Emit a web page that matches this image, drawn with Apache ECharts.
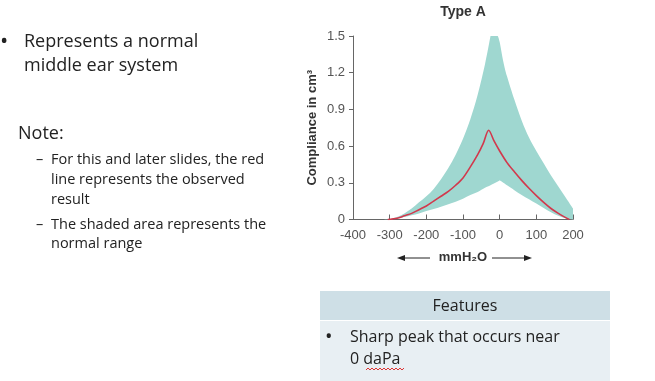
<!DOCTYPE html>
<html><head><meta charset="utf-8">
<script src="https://cdn.jsdelivr.net/npm/echarts@6/dist/echarts.min.js"></script>
<style>html,body{margin:0;padding:0;background:#fff}#c{width:655px;height:381px}</style>
</head><body><div id="c"></div>
<script>
// Normal range band (shaded area), sampled at common pressures (mmH2O)
const bandX     = [-320,-300,-280,-260,-240,-220,-200,-180,-160,-140,-120,-100,-80,-60,-40,-25,-5,0,10,20,40,60,80,100,120,140,160,180,200];
const bandUpper = [0,0.004,0.02,0.05,0.09,0.14,0.19,0.25,0.33,0.42,0.53,0.66,0.82,1.02,1.27,1.5,1.5,1.45,1.29,1.17,0.98,0.81,0.67,0.56,0.46,0.36,0.27,0.18,0.09];
const bandLower = [0,0,0.01,0.02,0.035,0.05,0.07,0.085,0.105,0.125,0.145,0.17,0.20,0.225,0.26,0.28,0.31,0.32,0.30,0.28,0.24,0.20,0.165,0.13,0.095,0.06,0.03,0.01,0];
// Observed result (red line)
const obsX = [-305,-280,-260,-240,-220,-200,-180,-160,-140,-120,-100,-80,-60,-45,-30,-15,0,20,40,60,80,100,120,140,160,180,190];
const obsY = [0,0.01,0.03,0.05,0.08,0.11,0.15,0.19,0.23,0.28,0.34,0.43,0.53,0.62,0.73,0.64,0.56,0.465,0.39,0.32,0.255,0.195,0.14,0.09,0.05,0.015,0];
// Axis ticks
const xTicks = [-400,-300,-200,-100,0,100,200];
const yTicks = [0,0.3,0.6,0.9,1.2,1.5];

const chart = echarts.init(document.getElementById('c'), null, {renderer:'canvas'});
const bandData = bandX.map((x,i)=>[x,bandLower[i],bandUpper[i]]);
const obsData = obsX.map((x,i)=>[x,obsY[i]]);

// Catmull-Rom path through pixel points (smooth drawing of a boundary)
function crPath(pts, first){
  let d = (first?'M':'L')+pts[0][0]+','+pts[0][1];
  for(let i=0;i<pts.length-1;i++){
    const p0=pts[i-1]||pts[i], p1=pts[i], p2=pts[i+1], p3=pts[i+2]||pts[i+1];
    const c1=[p1[0]+(p2[0]-p0[0])/6, p1[1]+(p2[1]-p0[1])/6];
    const c2=[p2[0]-(p3[0]-p1[0])/6, p2[1]-(p3[1]-p1[1])/6];
    d+='C'+c1[0]+','+c1[1]+' '+c2[0]+','+c2[1]+' '+p2[0]+','+p2[1];
  }
  return d;
}

const F = 'Open Sans';
const txt = (x,y,t,size,extra)=>({type:'text',x:x,y:y,style:Object.assign({text:t,font:size+'px "'+F+'"',fill:'#222',textVerticalAlign:'middle'},extra||{})});

chart.setOption({
  animation:false,
  title:{text:'Type A',left:458,top:0,textAlign:'center',textStyle:{fontFamily:'Liberation Sans',fontSize:14,fontWeight:'bold',color:'#333'}},
  grid:{left:353,right:82,top:36,bottom:161.5,containLabel:false},
  xAxis:{type:'value',min:xTicks[0],max:xTicks[xTicks.length-1],interval:100,
    name:'mmH₂O',nameLocation:'middle',nameGap:31,
    nameTextStyle:{fontFamily:'Liberation Sans',fontSize:13,fontWeight:'bold',color:'#333'},
    axisLine:{onZero:false,lineStyle:{color:'#666',width:1}},
    axisTick:{inside:true,length:5,lineStyle:{color:'#666'}},
    axisLabel:{margin:9,fontFamily:'Liberation Sans',fontSize:13,color:'#555'},
    splitLine:{show:false}},
  yAxis:{type:'value',min:yTicks[0],max:yTicks[yTicks.length-1],interval:0.3,
    name:'Compliance in cm³',nameLocation:'middle',nameGap:34,nameRotate:90,
    nameTextStyle:{fontFamily:'Liberation Sans',fontSize:13,fontWeight:'bold',color:'#333'},
    axisLine:{show:true,onZero:false,lineStyle:{color:'#666',width:1}},
    axisTick:{show:true,length:4,lineStyle:{color:'#666'}},
    axisLabel:{margin:8,fontFamily:'Liberation Sans',fontSize:13,color:'#555',
      formatter:v=>v===0?'0':v.toFixed(1)},
    splitLine:{show:false}},
  series:[
    {type:'custom',data:bandData,encode:{x:0,y:[1,2]},silent:true,z:1,
      renderItem:(params,api)=>{
        if(params.dataIndex!==0) return null;
        const iTopL = bandX.indexOf(-25), iTopR = bandX.indexOf(-5), iMid = bandX.indexOf(0), n = bandX.length;
        const up = bandX.map((x,i)=>api.coord([x,bandUpper[i]]));
        const lo = bandX.map((x,i)=>api.coord([x,bandLower[i]]));
        let d = crPath(up.slice(0,iTopL+1), true);
        d += crPath(up.slice(iTopR), false);
        d += 'L'+lo[n-1][0]+','+lo[n-1][1];
        d += crPath(lo.slice(iMid).reverse(), false);
        d += crPath(lo.slice(0,iMid+1).reverse(), false);
        d += 'Z';
        return {type:'path',shape:{pathData:d},style:{fill:'#9fd7d0',stroke:null}};
      }},
    {type:'line',data:obsData,symbol:'none',smooth:0.3,lineStyle:{color:'#d2384c',width:1.6},z:3}
  ],
  graphic:[
    txt(0,42,'•',22),
    txt(24,42,'Represents a normal',18),
    txt(24,66,'middle ear system',18),
    txt(18,134,'Note:',18),
    txt(36,160,'–',14.5),
    txt(51,160,'For this and later slides, the red',14.5),
    txt(51,180,'line represents the observed',14.5),
    txt(51,200,'result',14.5),
    txt(36,225,'–',14.5),
    txt(51,225,'The shaded area represents the',14.5),
    txt(51,244,'normal range',14.5),
    {type:'rect',shape:{x:320,y:291,width:290,height:29},style:{fill:'#cedfe6'}},
    {type:'rect',shape:{x:320,y:321,width:290,height:60},style:{fill:'#e8eff3'}},
    txt(465,306,'Features',16,{textAlign:'center'}),
    txt(325,337,'•',20),
    txt(350,337,'Sharp peak that occurs near',16),
    txt(350,359,'0 daPa',16),
    {type:'polyline',shape:{points:[[366,370],[368,368],[370,370],[372,368],[374,370],[376,368],[378,370],[380,368],[382,370],[384,368],[386,370],[388,368],[390,370],[392,368],[394,370],[396,368],[398,370],[400,368],[402,370],[404,368]]},style:{stroke:'#d33',lineWidth:1,fill:null}},
    {type:'line',shape:{x1:402,y1:258,x2:430,y2:258},style:{stroke:'#222',lineWidth:1}},
    {type:'polygon',shape:{points:[[397,258],[405,255],[405,261]]},style:{fill:'#222'}},
    {type:'line',shape:{x1:492,y1:258,x2:527,y2:258},style:{stroke:'#222',lineWidth:1}},
    {type:'polygon',shape:{points:[[532,258],[524,255],[524,261]]},style:{fill:'#222'}}
  ]
});
</script></body></html>
